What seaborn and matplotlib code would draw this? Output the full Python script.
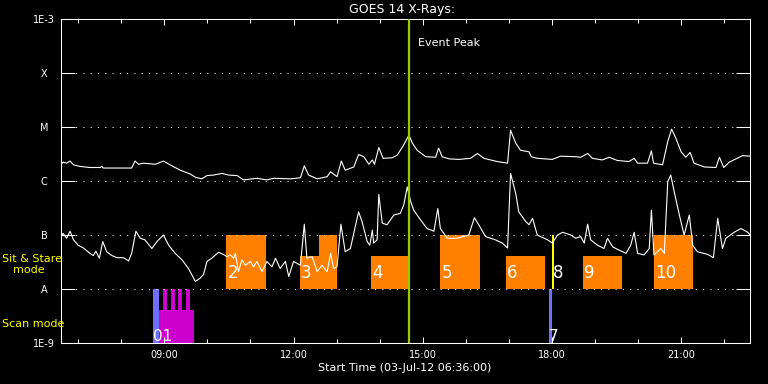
import numpy as np
import pandas as pd
import matplotlib
matplotlib.use('Agg')
import matplotlib.pyplot as plt
import seaborn as sns
from matplotlib.ticker import FixedLocator, NullLocator

# ---------------- data ----------------
# GOES long channel (1-8 A), time in decimal hours UT, log10 flux (W/m^2)
upper_t = [6.60, 6.65, 6.73, 6.81, 6.89, 7.04, 7.27, 7.51, 7.55, 7.58, 7.97, 8.24, 8.32, 8.40, 8.51, 8.79, 8.98,
           9.13, 9.37, 9.60, 9.72, 9.87, 9.99, 10.14, 10.34, 10.49, 10.69, 10.84, 11.15, 11.38, 11.54, 11.93,
           12.16, 12.25, 12.35, 12.55, 12.78, 12.86, 13.01, 13.11, 13.20, 13.40, 13.51, 13.63, 13.75, 13.83,
           13.88, 13.98, 14.08, 14.29, 14.41, 14.56, 14.68, 14.76, 14.87, 15.07, 15.30, 15.37, 15.45, 15.61,
           15.84, 16.11, 16.27, 16.42, 16.73, 16.97, 17.04, 17.16, 17.27, 17.47, 17.52, 17.66, 18.01, 18.20,
           18.55, 18.67, 18.83, 18.94, 19.17, 19.33, 19.52, 19.79, 19.91, 19.99, 20.22, 20.31, 20.36, 20.57,
           20.69, 20.78, 20.88, 21.00, 21.11, 21.21, 21.30, 21.54, 21.81, 21.89, 21.99, 22.12, 22.43, 22.60]
upper_log = [-5.69, -5.65, -5.67, -5.63, -5.70, -5.73, -5.75, -5.75, -5.73, -5.76, -5.76, -5.76, -5.63, -5.69,
             -5.67, -5.69, -5.63, -5.70, -5.80, -5.87, -5.93, -5.96, -5.90, -5.89, -5.86, -5.89, -5.90, -5.98,
             -5.95, -5.98, -5.95, -5.96, -5.94, -5.72, -5.89, -5.96, -5.92, -5.83, -5.92, -5.63, -5.80, -5.74,
             -5.51, -5.55, -5.69, -5.61, -5.69, -5.38, -5.58, -5.57, -5.52, -5.33, -5.15, -5.30, -5.43, -5.55,
             -5.56, -5.39, -5.55, -5.59, -5.60, -5.58, -5.49, -5.58, -5.64, -5.67, -5.06, -5.30, -5.43, -5.46,
             -5.55, -5.58, -5.60, -5.54, -5.55, -5.56, -5.49, -5.58, -5.61, -5.56, -5.62, -5.64, -5.58, -5.67,
             -5.67, -5.44, -5.67, -5.70, -5.27, -5.04, -5.21, -5.46, -5.56, -5.47, -5.67, -5.74, -5.75, -5.56,
             -5.75, -5.65, -5.53, -5.54]

# GOES short channel (0.5-4 A)
lower_t = [6.60, 6.65, 6.73, 6.81, 6.89, 7.00, 7.12, 7.27, 7.35, 7.41,
           7.49, 7.57, 7.66, 7.78, 7.90, 8.05, 8.17, 8.24, 8.34, 8.44,
           8.55, 8.71, 8.83, 8.98, 9.10, 9.25, 9.41, 9.56, 9.66, 9.72,
           9.83, 9.91, 9.99, 10.10, 10.26, 10.37, 10.45, 10.53, 10.61, 10.65,
           10.72, 10.80, 10.88, 11.00, 11.07, 11.15, 11.27, 11.38, 11.50, 11.58,
           11.69, 11.81, 11.89, 12.00, 12.16, 12.25, 12.31, 12.43, 12.55, 12.66,
           12.78, 12.86, 12.93, 13.01, 13.10, 13.20, 13.32, 13.51, 13.59, 13.71,
           13.77, 13.83, 13.86, 13.94, 13.98, 14.06, 14.17, 14.33, 14.48, 14.56,
           14.64, 14.72, 14.79, 14.95, 15.10, 15.26, 15.35, 15.41, 15.57, 15.80,
           16.07, 16.20, 16.30, 16.46, 16.69, 16.85, 16.97, 17.04, 17.16, 17.23,
           17.39, 17.47, 17.55, 17.66, 17.90, 18.01, 18.13, 18.25, 18.44, 18.55,
           18.67, 18.75, 18.83, 18.90, 19.06, 19.21, 19.29, 19.41, 19.56, 19.72,
           19.83, 19.91, 19.99, 20.14, 20.26, 20.31, 20.37, 20.53, 20.61, 20.69,
           20.76, 20.84, 20.96, 21.07, 21.19, 21.27, 21.38, 21.62, 21.75, 21.85,
           21.96, 22.04, 22.23, 22.39, 22.55, 22.60]
lower_log = [-7.04, -6.97, -7.06, -6.93, -7.09, -7.19, -7.24, -7.34, -7.38, -7.30,
             -7.43, -7.12, -7.31, -7.38, -7.42, -7.42, -7.48, -7.34, -6.93, -7.06,
             -7.09, -7.25, -7.12, -7.00, -7.19, -7.34, -7.46, -7.62, -7.77, -7.86,
             -7.80, -7.73, -7.49, -7.43, -7.32, -7.36, -7.40, -7.37, -7.43, -7.34,
             -7.68, -7.46, -7.56, -7.49, -7.59, -7.49, -7.68, -7.49, -7.59, -7.43,
             -7.62, -7.49, -7.77, -7.49, -7.56, -6.80, -7.43, -7.40, -7.68, -7.56,
             -7.68, -7.34, -7.62, -7.59, -6.80, -7.31, -7.25, -6.57, -6.75, -7.12,
             -7.19, -6.91, -7.15, -7.09, -6.25, -6.78, -6.81, -6.63, -6.60, -6.44,
             -6.11, -6.38, -6.54, -6.72, -6.88, -6.93, -6.51, -6.88, -7.06, -7.06,
             -7.00, -6.68, -6.81, -7.03, -7.09, -7.15, -7.24, -5.86, -6.23, -6.57,
             -6.75, -6.81, -6.69, -7.00, -7.09, -7.15, -7.00, -6.95, -7.00, -7.06,
             -7.03, -7.15, -6.80, -7.09, -7.19, -7.25, -7.06, -7.22, -7.28, -7.34,
             -7.19, -6.95, -7.34, -7.37, -7.25, -6.54, -7.37, -7.25, -7.34, -6.01,
             -5.89, -6.20, -6.63, -7.00, -6.63, -7.19, -7.31, -7.36, -7.42, -6.69,
             -7.25, -7.06, -6.95, -6.88, -6.95, -7.00]

# Sit & Stare observations (bars from the A level up to top)
ss_ids = ['2', '3', '', '4', '5', '6', '8', '9', '10']
ss_start = [10.44, 12.14, 12.60, 13.79, 15.41, 16.93, 18.00, 18.72, 20.37]
ss_end = [11.35, 13.00, 13.00, 14.67, 16.32, 17.83, 18.045, 19.62, 21.27]
ss_top = [1e-7, 4.1e-8, 1e-7, 4.1e-8, 1e-7, 4.1e-8, 1e-7, 4.1e-8, 1e-7]
ss_colors = ['#ff8000', '#ff8000', '#ff8000', '#ff8000', '#ff8000', '#ff8000', '#ffff00', '#ff8000', '#ff8000']

# Scan mode observations (bars from 1E-9 up to top); ids 0 and 1 sit side by side -> "01"
scan_ids = ['01', '', '', '', '', '', '7']
scan_start = [8.74, 8.88, 8.97, 9.15, 9.32, 9.50, 17.93]
scan_end = [8.88, 9.69, 9.07, 9.24, 9.41, 9.59, 18.00]
scan_top = [1e-8, 4.1e-9, 1e-8, 1e-8, 1e-8, 1e-8, 1e-8]
scan_colors = ['#7070ff', '#cc00cc', '#cc00cc', '#cc00cc', '#cc00cc', '#cc00cc', '#7070ff']

event_peak = 14.69

ytick_vals = [1e-9, 1e-8, 1e-7, 1e-6, 1e-5, 1e-4, 1e-3]
ytick_labels = ['1E-9', 'A', 'B', 'C', 'M', 'X', '1E-3']
xtick_major = [9, 12, 15, 18, 21]
xtick_labels = ['09:00', '12:00', '15:00', '18:00', '21:00']
xtick_minor = list(range(7, 23))

# ---------------- plot ----------------
sns.set_style('dark', rc={'axes.facecolor': 'black', 'figure.facecolor': 'black'})
plt.rcParams['font.family'] = ['DejaVu Sans']

fig = plt.figure(figsize=(7.68, 3.84), dpi=100, facecolor='black')
ax = fig.add_axes([61 / 768, 1 - 343 / 384, 689 / 768, 324 / 384])
ax.set_facecolor('black')

ax.set_yscale('log')
ax.set_ylim(1e-9, 1e-3)
ax.set_xlim(6.6, 22.6)

# boxes
ss_start_a = np.array(ss_start)
ax.bar(ss_start_a, np.array(ss_top) - 1e-8, bottom=1e-8, width=np.array(ss_end) - ss_start_a,
       align='edge', color=ss_colors, linewidth=0, zorder=1)
sc_start_a = np.array(scan_start)
ax.bar(sc_start_a, np.array(scan_top) - 1e-9, bottom=1e-9, width=np.array(scan_end) - sc_start_a,
       align='edge', color=scan_colors, linewidth=0, zorder=1)

# curves
df_up = pd.DataFrame({'t': upper_t, 'flux': 10 ** np.array(upper_log)})
df_lo = pd.DataFrame({'t': lower_t, 'flux': 10 ** np.array(lower_log)})
sns.lineplot(data=df_up, x='t', y='flux', ax=ax, color='white', linewidth=0.8,
             estimator=None, sort=False, zorder=3)
sns.lineplot(data=df_lo, x='t', y='flux', ax=ax, color='white', linewidth=0.8,
             estimator=None, sort=False, zorder=3)

ax.axvline(event_peak, color='#99cc00', linewidth=1.6, zorder=4)
ax.text(event_peak + 0.2, 10 ** -3.44, 'Event Peak', color='white', fontsize=8,
        ha='left', va='center', zorder=5)

for s, lab in zip(ss_start, ss_ids):
    if lab:
        ax.text(s + 0.03, 10 ** -7.8, lab, color='white', fontsize=12, ha='left',
                va='baseline', zorder=5)
for s, lab in zip(scan_start, scan_ids):
    if lab:
        ax.text(s, 10 ** -8.97, lab, color='white', fontsize=11, ha='left',
                va='baseline', zorder=5)

# axes styling
ax.set_xlabel('')
ax.set_ylabel('')
ax.yaxis.set_major_locator(FixedLocator(ytick_vals))
ax.yaxis.set_minor_locator(NullLocator())
ax.set_yticklabels(ytick_labels)
ax.xaxis.set_major_locator(FixedLocator(xtick_major))
ax.xaxis.set_minor_locator(FixedLocator(xtick_minor))
ax.set_xticklabels(xtick_labels)

ax.tick_params(axis='y', which='major', direction='in', length=10, width=0.75, color='white',
               labelcolor='white', labelsize=7, left=True, right=True, pad=12)
for lbl in ax.get_yticklabels():
    lbl.set_horizontalalignment('center')
ax.tick_params(axis='x', which='major', direction='in', length=4.3, width=0.75, color='white',
               labelcolor='white', labelsize=7, bottom=True, top=True, pad=5)
ax.tick_params(axis='x', which='minor', direction='in', length=3, width=0.75, color='white',
               bottom=True, top=True)

ax.grid(False)
ax.yaxis.grid(True, which='major', color='white', linestyle=(0, (1, 6)), linewidth=0.75)
ax.set_axisbelow(False)
for sp in ax.spines.values():
    sp.set_color('white')
    sp.set_linewidth(0.75)
    sp.set_visible(True)

fig.text(402 / 768, 1 - 10 / 384, 'GOES 14 X-Rays:', color='white', fontsize=9, ha='center', va='center')
fig.text(405 / 768, 1 - 368 / 384, 'Start Time (03-Jul-12 06:36:00)', color='white', fontsize=8,
         ha='center', va='center')
fig.text(2 / 768, 1 - 259 / 384, 'Sit & Stare', color='yellow', fontsize=8, ha='left', va='center')
fig.text(13 / 768, 1 - 270 / 384, 'mode', color='yellow', fontsize=8, ha='left', va='center')
fig.text(2 / 768, 1 - 324 / 384, 'Scan mode', color='yellow', fontsize=8, ha='left', va='center')

fig.savefig('out.png', dpi=100, facecolor='black')
